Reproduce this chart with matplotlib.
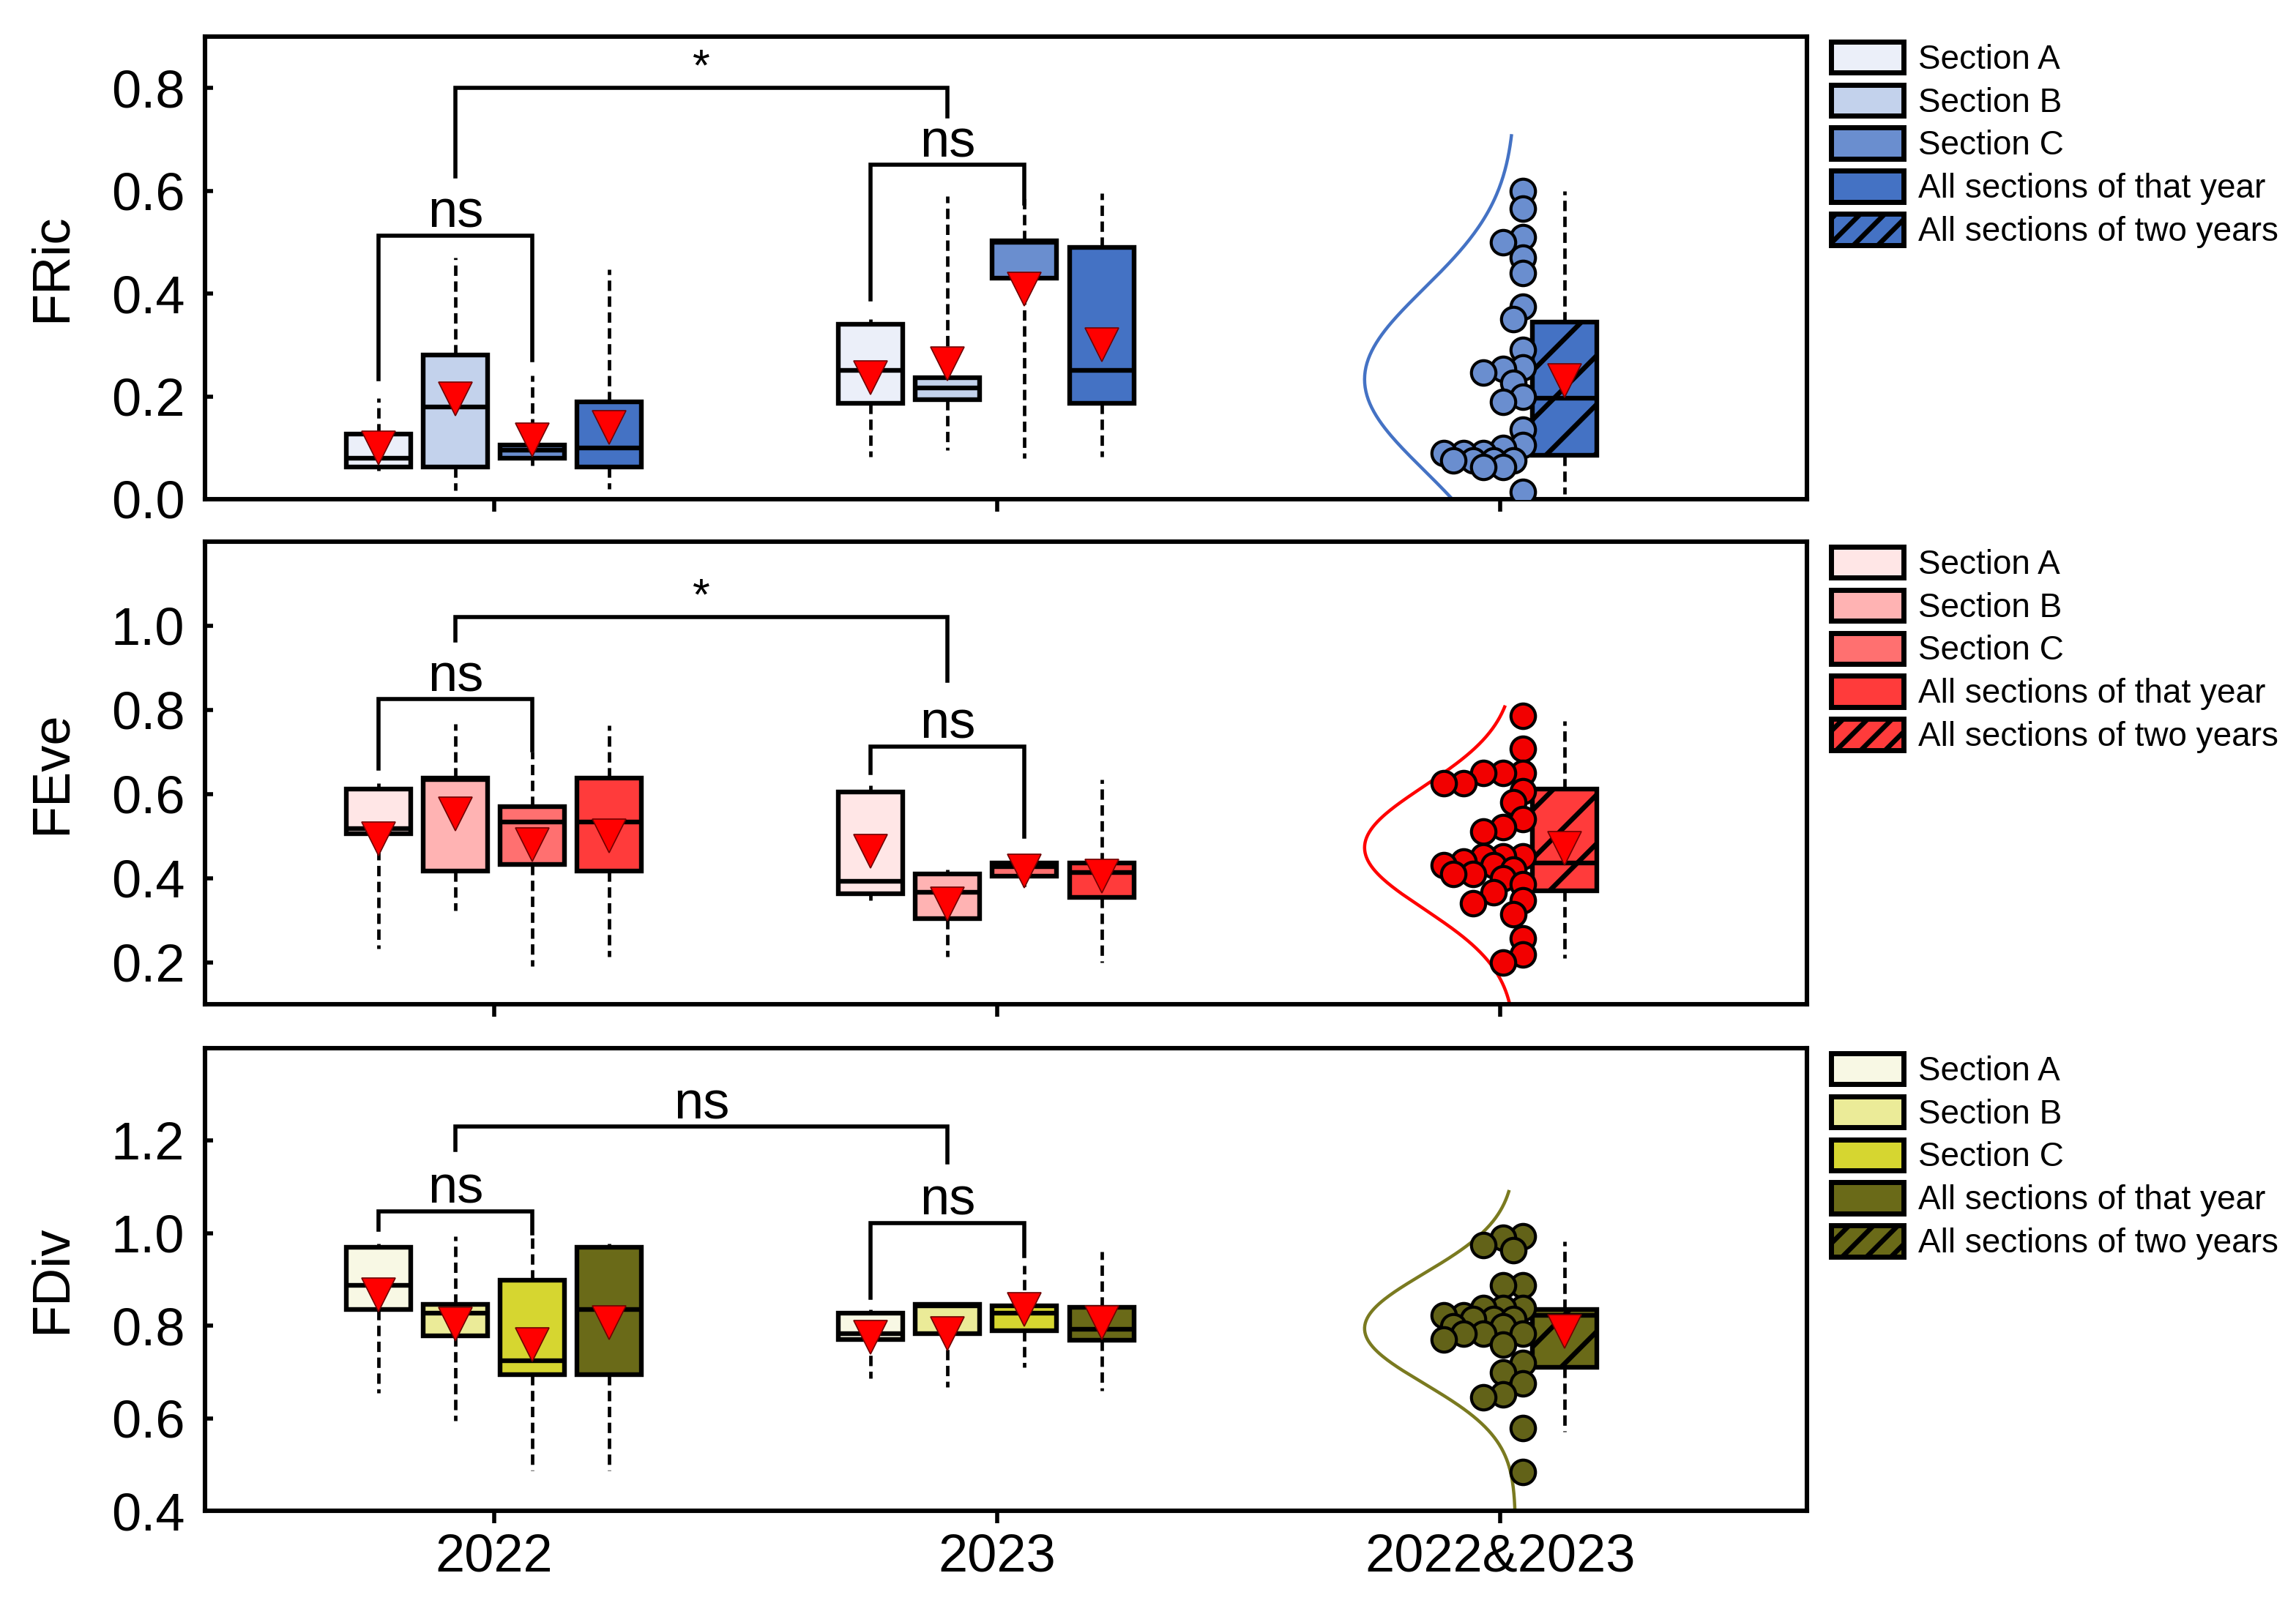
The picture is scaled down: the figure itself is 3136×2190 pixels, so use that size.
import numpy as np
import matplotlib.pyplot as plt
from matplotlib.patches import Patch

plt.rcParams['font.family'] = ['Liberation Sans', 'DejaVu Sans']
plt.rcParams['hatch.linewidth'] = 2.4

year_labels = ['2022', '2023', '2022&2023']
legend_labels = ['Section A', 'Section B', 'Section C',
                 'All sections of that year', 'All sections of two years']

# one row per box: whisker low, q1, median, q3, whisker high, mean
fric_2022 = [[0.055, 0.063, 0.079, 0.126, 0.197, 0.100],
             [0.017, 0.063, 0.180, 0.280, 0.470, 0.195],
             [0.065, 0.080, 0.095, 0.106, 0.240, 0.115],
             [0.020, 0.063, 0.100, 0.190, 0.447, 0.139]]
fric_2023 = [[0.083, 0.187, 0.250, 0.340, 0.350, 0.237],
             [0.096, 0.194, 0.217, 0.237, 0.590, 0.263],
             [0.080, 0.430, 0.500, 0.503, 0.590, 0.408],
             [0.083, 0.187, 0.250, 0.490, 0.595, 0.300]]
fric_both = [0.010, 0.086, 0.197, 0.345, 0.600, 0.230]
fric_points = [0.600, 0.565, 0.510, 0.500, 0.470, 0.440, 0.375, 0.350, 0.290,
               0.256, 0.253, 0.247, 0.227, 0.200, 0.190, 0.135, 0.105, 0.100,
               0.090, 0.090, 0.090, 0.076, 0.076, 0.076, 0.076, 0.063, 0.063,
               0.014]

feve_2022 = [[0.233, 0.506, 0.517, 0.612, 0.626, 0.494],
             [0.323, 0.416, 0.635, 0.638, 0.767, 0.552],
             [0.190, 0.432, 0.533, 0.570, 0.700, 0.479],
             [0.214, 0.416, 0.533, 0.638, 0.763, 0.500]]
feve_2023 = [[0.347, 0.362, 0.393, 0.605, 0.620, 0.463],
             [0.214, 0.303, 0.366, 0.410, 0.420, 0.338],
             [0.378, 0.405, 0.427, 0.436, 0.440, 0.416],
             [0.199, 0.354, 0.413, 0.436, 0.634, 0.405]]
feve_both = [0.210, 0.370, 0.436, 0.611, 0.774, 0.471]
feve_points = [0.786, 0.708, 0.650, 0.650, 0.650, 0.626, 0.626, 0.607, 0.580,
               0.540, 0.521, 0.510, 0.451, 0.451, 0.451, 0.440, 0.430, 0.430,
               0.420, 0.410, 0.410, 0.400, 0.385, 0.366, 0.347, 0.340, 0.315,
               0.257, 0.218, 0.200]

fdiv_2022 = [[0.655, 0.835, 0.888, 0.969, 0.978, 0.867],
             [0.595, 0.779, 0.827, 0.847, 0.994, 0.803],
             [0.487, 0.695, 0.725, 0.899, 0.995, 0.759],
             [0.487, 0.695, 0.835, 0.969, 0.978, 0.807]]
fdiv_2023 = [[0.687, 0.771, 0.783, 0.827, 0.835, 0.775],
             [0.667, 0.783, 0.843, 0.846, 0.846, 0.783],
             [0.711, 0.790, 0.827, 0.843, 0.930, 0.835],
             [0.660, 0.769, 0.793, 0.840, 0.960, 0.807]]
fdiv_both = [0.571, 0.711, 0.823, 0.835, 0.983, 0.787]
fdiv_points = [0.994, 0.990, 0.975, 0.963, 0.887, 0.887, 0.839, 0.839, 0.839,
               0.823, 0.823, 0.815, 0.815, 0.815, 0.799, 0.799, 0.783, 0.783,
               0.783, 0.770, 0.760, 0.719, 0.699, 0.675, 0.652, 0.645, 0.579,
               0.484]

# significance brackets: left leg end, right leg end, bar height, label
fric_brackets = [(0.234, 0.270, 0.513, 'ns'), (0.388, 0.575, 0.650, 'ns'),
                 (0.628, 0.745, 0.800, '*')]
feve_brackets = [(0.661, 0.704, 0.825, 'ns'), (0.650, 0.498, 0.713, 'ns'),
                 (0.965, 0.870, 1.020, '*')]
fdiv_brackets = [(1.007, 1.000, 1.048, 'ns'), (0.860, 0.950, 1.022, 'ns'),
                 (1.180, 1.154, 1.230, 'ns')]

blues = ['#ebeff9', '#c3d2ec', '#6a8ecf', '#4472c4']
reds = ['#ffe6e6', '#ffb3b3', '#ff7070', '#ff3b3b']
olives = ['#f8f8e4', '#ebeb98', '#d6d630', '#6a6a18']

panels = [
    dict(ylabel='FRic', y2022=fric_2022, y2023=fric_2023, both=fric_both,
         points=fric_points, brackets=fric_brackets, colors=blues,
         point_color='#6a8ecf', curve_color='#4472c4', curve_top=0.707,
         ylim=(0, 0.9), yticks=[0.0, 0.2, 0.4, 0.6, 0.8]),
    dict(ylabel='FEve', y2022=feve_2022, y2023=feve_2023, both=feve_both,
         points=feve_points, brackets=feve_brackets, colors=reds,
         point_color='#f20000', curve_color='#ff0000', curve_top=0.807,
         ylim=(0.1, 1.2), yticks=[0.2, 0.4, 0.6, 0.8, 1.0]),
    dict(ylabel='FDiv', y2022=fdiv_2022, y2023=fdiv_2023, both=fdiv_both,
         points=fdiv_points, brackets=fdiv_brackets, colors=olives,
         point_color='#626218', curve_color='#7a7a20', curve_top=1.09,
         ylim=(0.4, 1.4), yticks=[0.4, 0.6, 0.8, 1.0, 1.2]),
]

box_w = 0.128
offsets = (np.arange(4) - 1.5) * 0.153
group_shift = [0.0, -0.022]


def to_stats(rows):
    return [dict(whislo=r[0], q1=r[1], med=r[2], q3=r[3], whishi=r[4],
                 mean=r[5], fliers=[]) for r in rows]


def draw_boxes(ax, rows, positions, colors, hatch=None):
    bp = ax.bxp(to_stats(rows), positions=positions, widths=box_w,
                patch_artist=True, showcaps=False, showmeans=True,
                showfliers=False, manage_ticks=False,
                boxprops=dict(edgecolor='black', linewidth=2.3),
                whiskerprops=dict(color='black', linewidth=1.7,
                                  linestyle=(0, (3, 1.6))),
                medianprops=dict(color='black', linewidth=2.3),
                meanprops=dict(marker='v', markerfacecolor='red',
                               markeredgecolor='#700000',
                               markeredgewidth=0.6, markersize=16.5))
    for patch, c in zip(bp['boxes'], colors):
        patch.set_facecolor(c)
        if hatch:
            patch.set_hatch(hatch)


def swarm(ax, values, x0, diam_px):
    # crude beeswarm: shift a point to the left while it sits on others
    bb = ax.get_window_extent()
    x0l, x1l = ax.get_xlim()
    y0l, y1l = ax.get_ylim()
    px_x = bb.width / (x1l - x0l)
    px_y = bb.height / (y1l - y0l)
    placed = []
    xs = []
    for v in values:
        best, best_d = x0, -1
        for k in range(9):
            x = x0 - k * 0.4 * diam_px / px_x
            d = min([np.hypot((x - xp) * px_x, (v - yp) * px_y)
                     for xp, yp in placed] + [1e9])
            if d >= 0.6 * diam_px:
                best = x
                break
            if d > best_d:
                best, best_d = x, d
        placed.append((best, v))
        xs.append(best)
    return xs


fig = plt.figure(figsize=(15.68, 10.95), dpi=200)
bottoms = [0.6886, 0.3735, 0.0575]

for i, p in enumerate(panels):
    ax = fig.add_axes([0.0893, bottoms[i], 0.6977, 0.2886])
    ax.set_xlim(-0.574, 2.609)
    ax.set_ylim(*p['ylim'])

    pos22 = 0 + offsets + group_shift[0]
    pos23 = 1 + offsets + group_shift[1]
    draw_boxes(ax, p['y2022'], pos22, p['colors'])
    draw_boxes(ax, p['y2023'], pos23, p['colors'])
    draw_boxes(ax, [p['both']], [2 + box_w], [p['colors'][3]], hatch='/')

    # normal curve fitted to all points of both years
    pts = np.array(p['points'])
    mu, sd = pts.mean(), pts.std(ddof=1)
    yy = np.linspace(mu - 4 * sd, p['curve_top'], 300)
    ax.plot(2.03 - 0.30 * np.exp(-0.5 * ((yy - mu) / sd) ** 2), yy,
            color=p['curve_color'], lw=1.6, zorder=2)

    xs = swarm(ax, p['points'], 2.045, 34)
    ax.scatter(xs, p['points'], s=145, c=p['point_color'],
               edgecolors='black', linewidths=1.5, zorder=3)

    # brackets
    spans = [(pos22[0], pos22[2]), (pos23[0], pos23[2]), (pos22[1], pos23[1])]
    for (xa, xb), (ya, yb, bar, lab) in zip(spans, p['brackets']):
        ax.plot([xa, xa, xb, xb], [ya, bar, bar, yb], color='black',
                lw=2.0, solid_joinstyle='miter', zorder=4)
        ax.annotate(lab, xy=((xa + xb) / 2, bar), xytext=(0, 4),
                    textcoords='offset points', ha='center', va='baseline',
                    fontsize=26 if lab == 'ns' else 22)

    ax.set_yticks(p['yticks'])
    ax.set_yticklabels(['%.1f' % t for t in p['yticks']])
    ax.set_xticks([0, 1, 2])
    ax.set_xticklabels(year_labels)
    ax.tick_params(axis='y', direction='in', length=4, width=2, pad=10,
                   labelsize=26)
    ax.tick_params(axis='x', direction='out', length=6, width=2, pad=5,
                   labelsize=26, labelbottom=(i == 2))
    for s in ax.spines.values():
        s.set_linewidth(2.2)
    ax.set_ylabel(p['ylabel'], fontsize=26)
    ax.yaxis.set_label_coords(-0.08, 0.5)

    handles = [Patch(facecolor=c, edgecolor='black', linewidth=2.5, label=l)
               for c, l in zip(p['colors'], legend_labels[:4])]
    handles.append(Patch(facecolor=p['colors'][3], edgecolor='black',
                         linewidth=2.5, hatch='//', label=legend_labels[4]))
    ax.legend(handles=handles, loc='upper left', bbox_to_anchor=(1.012, 1.0),
              frameon=False, fontsize=16.5, handlelength=2.15,
              handleheight=1.05, labelspacing=0.26, handletextpad=0.45,
              borderpad=0.15, borderaxespad=0)

fig.savefig('out.png', dpi=200)
